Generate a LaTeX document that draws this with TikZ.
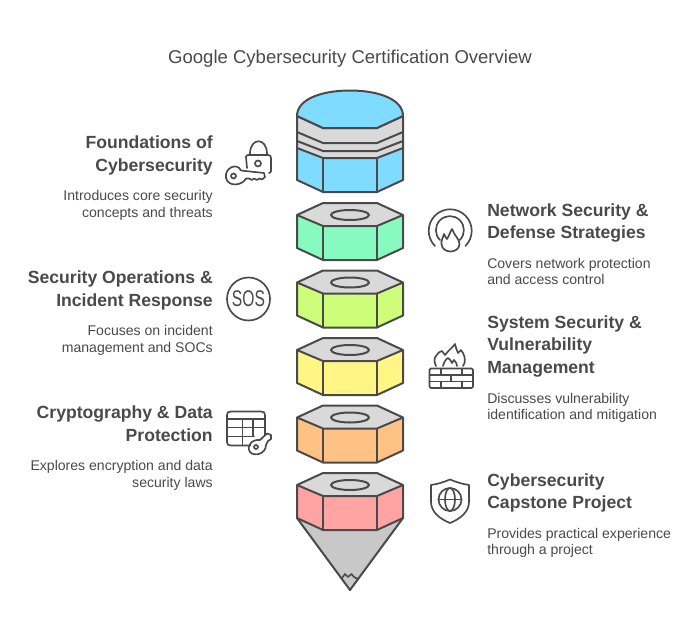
\documentclass[tikz,border=0pt]{standalone}
\usepackage{fontspec}
\setmainfont{Liberation Sans}
\definecolor{ink}{HTML}{4A4A4A}
\definecolor{cap}{HTML}{D9D9D9}
\definecolor{cblue}{HTML}{7FDBFF}
\definecolor{cgreen}{HTML}{87FBBF}
\definecolor{clime}{HTML}{CDFD79}
\definecolor{cyellow}{HTML}{FFF685}
\definecolor{corange}{HTML}{FFC285}
\definecolor{cred}{HTML}{FFA3A3}
\tikzset{
  shapeline/.style={draw=ink,line width=1.5,line join=round},
  iconline/.style={draw=ink,line width=1.25,line join=round,line cap=round},
  titletext/.style={text=ink,font=\fontsize{13.9pt}{16pt}\selectfont,inner sep=0pt},
  headright/.style={text=ink,font=\fontsize{13.2pt}{17pt}\selectfont\bfseries,align=right,anchor=north east,inner sep=0pt},
  headleft/.style={text=ink,font=\fontsize{13.2pt}{17pt}\selectfont\bfseries,align=left,anchor=north west,inner sep=0pt},
  descright/.style={text=ink,font=\fontsize{10.55pt}{12.2pt}\selectfont,align=right,anchor=north east,inner sep=0pt},
  descleft/.style={text=ink,font=\fontsize{10.55pt}{12.2pt}\selectfont,align=left,anchor=north west,inner sep=0pt},
}
\newcommand{\sidesat}[2]{%
  \fill[#2] (297,#1+12) -- (323,#1+23) -- (377,#1+23) -- (403,#1+12) -- (403,#1+45) -- (377,#1+57) -- (323,#1+57) -- (297,#1+45) -- cycle;
  \draw[shapeline] (297,#1+12) -- (297,#1+45) -- (323,#1+57) -- (377,#1+57) -- (403,#1+45) -- (403,#1+12);
  \draw[shapeline] (323,#1+23) -- (323,#1+57) (377,#1+23) -- (377,#1+57);
}
\newcommand{\topat}[1]{%
  \draw[shapeline,fill=cap] (297,#1+12) -- (323,#1) -- (377,#1) -- (403,#1+12) -- (377,#1+23) -- (323,#1+23) -- cycle;
  \draw[shapeline] (350,#1+12) ellipse (19 and 5);
}
\begin{document}
\begin{tikzpicture}[x=0.75pt,y=-0.75pt]
\useasboundingbox (0,0) rectangle (700,636);
\fill[white] (0,0) rectangle (700,636);
\node[titletext] (title) at (350,59) {Google Cybersecurity Certification Overview};

% top cylinder
\fill[cblue] (297,148) -- (323,158) -- (377,158) -- (403,148) -- (403,180) -- (377,192) -- (323,192) -- (297,180) -- cycle;
\draw[shapeline] (297,148) -- (297,180) -- (323,192) -- (377,192) -- (403,180) -- (403,148);
\draw[shapeline] (323,158) -- (323,192) (377,158) -- (377,192);
\draw[shapeline,fill=cap] (297,116) -- (323,128) -- (377,128) -- (403,116) -- (403,148) -- (377,158) -- (323,158) -- (297,148) -- cycle;
\draw[shapeline] (297,132) -- (323,143) -- (377,143) -- (403,132);
\draw[shapeline] (297,141) -- (323,151) -- (377,151) -- (403,141);
\draw[shapeline,fill=cblue] (297,116) .. controls (297,99) and (322,90.5) .. (350,90.5) .. controls (378,90.5) and (403,99) .. (403,116) -- (377,128) -- (323,128) -- cycle;

% nuts
\sidesat{203}{cgreen}\topat{203}
\sidesat{270.5}{clime}\topat{270.5}
\sidesat{338}{cyellow}\topat{338}
\sidesat{405.5}{corange}\topat{405.5}

% bottom with point
\draw[shapeline,fill=cap!92!black] (297,518) -- (350,590) -- (403,518) -- (377,529) -- (323,529) -- cycle;
\draw[draw=ink,line width=1.2,line join=round] (342,578) -- (345,574) -- (348,577) -- (351.5,574) -- (354,577) -- (358,579);
\sidesat{473}{cred}\topat{473}

% text, left
\node[headright] (h1) at (213,135.5) {Foundations of\\Cybersecurity};
\node[descright] (d1) at (213,190.5) {Introduces core security\\concepts and threats};
\node[headright] (h3) at (213,270.5) {Security Operations \&\\Incident Response};
\node[descright] (d3) at (213,325.5) {Focuses on incident\\management and SOCs};
\node[headright] (h5) at (213,405.5) {Cryptography \& Data\\Protection};
\node[descright] (d5) at (213,460.5) {Explores encryption and data\\security laws};
% text, right
\node[headleft] (h2) at (487,203) {Network Security \&\\Defense Strategies};
\node[descleft] (d2) at (487,258) {Covers network protection\\and access control};
\node[headleft] (h4) at (487,315) {System Security \&\\Vulnerability\\Management};
\node[descleft] (d4) at (487,393) {Discusses vulnerability\\identification and mitigation};
\node[headleft] (h6) at (487,473) {Cybersecurity\\Capstone Project};
\node[descleft] (d6) at (487,528) {Provides practical experience\\through a project};

% icon: key and lock
\draw[iconline] (250,154) .. controls (250,137) and (267,137) .. (267,154);
\draw[iconline] (247,168) -- (246,157) .. controls (246,155) and (247,155) .. (249,155) -- (268,155) .. controls (270,155) and (271,156) .. (271,158) -- (271,171) .. controls (271,172) and (270,173) .. (269,173);
\draw[iconline] (258,163.5) circle (3);
\draw[iconline] (233.5,176) circle (2.5);
\draw[iconline] (241,170.5) -- (264,173) -- (265,177) -- (262,179.5) -- (259,178.5) -- (257,180) -- (254,178.5) -- (252,180) -- (249,178.5) -- (246,178.5)
  .. controls (242,186) and (228,187) .. (226,178) .. controls (224,168) and (237,162) .. (241,170.5);

% icon: fire ring
\draw[iconline] (435,246) arc[start angle=135,end angle=405,radius=21.5];
\draw[iconline] (440,240) arc[start angle=135,end angle=405,radius=14];
\draw[iconline] (444,234) .. controls (446,237) and (446,239) .. (447,239) .. controls (449,236) and (450,232) .. (452,229) .. controls (454,235) and (460,240) .. (459.5,244) .. controls (459,254) and (442,254) .. (441.5,244) .. controls (441,240) and (443,238) .. (444,234) -- cycle;

% icon: SOS
\draw[iconline] (248.5,299) circle (21.5);
\node[text=ink,font=\fontsize{17pt}{17pt}\selectfont,inner sep=0pt,xscale=0.69] (sos) at (248.5,299) {SOS};

% icon: firewall
\draw[iconline,rounded corners=1] (429.5,368.5) rectangle (473,388);
\draw[iconline] (429.5,375) -- (473,375) (429.5,381.5) -- (473,381.5);
\draw[iconline] (441,368.5) -- (441,375) (462,368.5) -- (462,375) (451,375) -- (451,381.5) (462,381.5) -- (462,388) (441,381.5) -- (441,388);
\draw[iconline] (436,366) .. controls (434,362) and (434,358) .. (436,356) .. controls (438,353) and (440,351) .. (442,351) .. controls (443,352) and (444,354) .. (445,355) .. controls (448,351) and (453,347) .. (455,344) .. controls (456,348) and (457,351) .. (458,353) .. controls (459,352) and (460,351) .. (461,350) .. controls (464,354) and (467,360) .. (463,366);
\draw[iconline] (443,366) .. controls (444,362) and (446,359) .. (448,358) .. controls (450,359) and (451,361) .. (452,363) .. controls (453,362) and (453,361) .. (454,360) .. controls (456,362) and (457,364) .. (457,366);

% icon: table and key
\draw[iconline] (250,445.5) -- (231,445.5) .. controls (228,445.5) and (227,444.5) .. (227,442) -- (227,415) .. controls (227,412.5) and (228,411.5) .. (231,411.5) -- (261,411.5) .. controls (264,411.5) and (265,412.5) .. (265,415) -- (265,435);
\draw[iconline] (227,419) -- (265,419) (227,427.5) -- (265,427.5) (227,436.5) -- (254,436.5);
\draw[iconline] (242.5,419) -- (242.5,445.5) (253,419) -- (253,436);
\draw[iconline] (256,447) circle (2);
\draw[iconline] (260,440) -- (267,433.5) -- (271,435) -- (271,439) -- (268,441) -- (266,445)
  .. controls (266,454) and (254,457) .. (250,452) .. controls (246,446) and (252,439) .. (260,440);

% icon: shield and globe
\draw[iconline] (431,485) .. controls (438,484) and (444,482) .. (450,479.5) .. controls (456,482) and (462,484) .. (469,485) -- (469,502) .. controls (469,512) and (460,519) .. (450,523) .. controls (440,519) and (431,512) .. (431,502) -- cycle;
\draw[iconline] (450,499.5) circle (11.5);
\draw[iconline] (450,499.5) ellipse (5 and 11.5);
\draw[iconline] (438.5,499.5) -- (461.5,499.5);
\end{tikzpicture}
\end{document}
